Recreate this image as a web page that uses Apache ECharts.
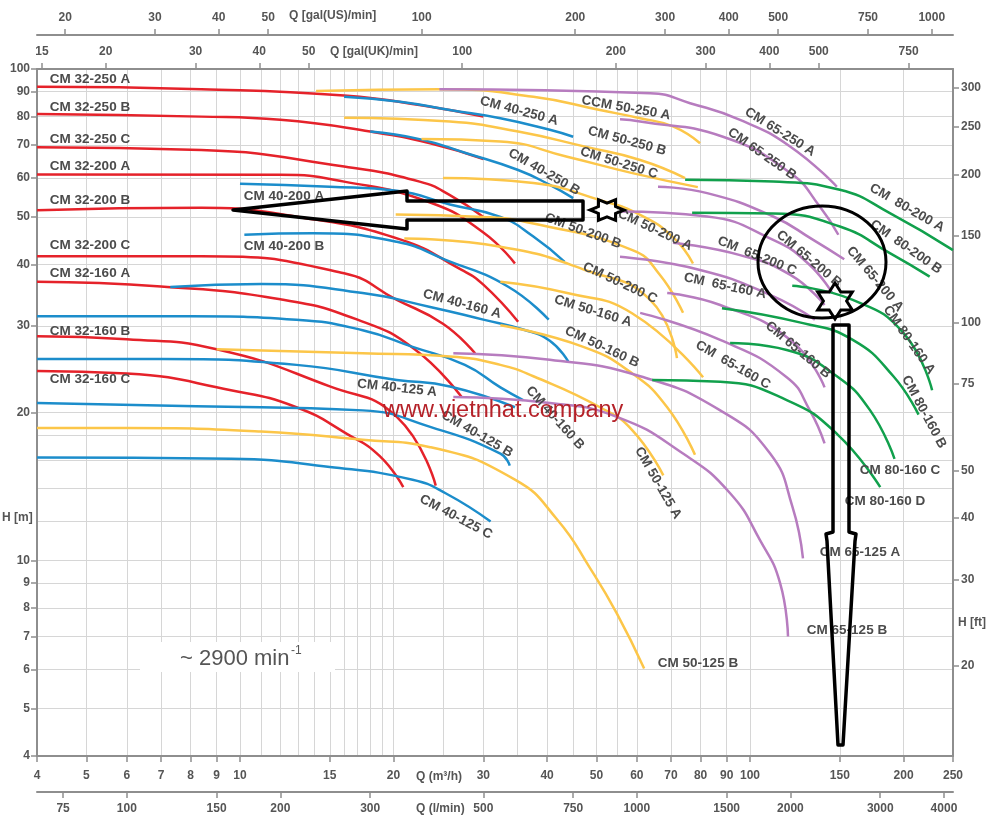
<!DOCTYPE html>
<html>
<head>
<meta charset="utf-8">
<script src="https://cdn.jsdelivr.net/npm/echarts@6/dist/echarts.min.js"></script>
<style>
  html, body { margin: 0; padding: 0; background: #fff; }
  #chart { width: 1000px; height: 822px; }
</style>
</head>
<body>
<div id="chart"></div>
<script>
// tick values of the scales
const qTicks = [4, 5, 6, 7, 8, 9, 10, 15, 20, 30, 40, 50, 60, 70, 80, 90, 100, 150, 200, 250];
const qGrid = [4, 5, 6, 7, 8, 9, 10, 11, 12, 13, 14, 15, 16, 17, 18, 19, 20, 25, 30, 35, 40, 45, 50, 55, 60, 70, 80, 90, 100, 150, 200, 250];
const hTicks = [4, 5, 6, 7, 8, 9, 10, 20, 30, 40, 50, 60, 70, 80, 90, 100];
const hGrid = [4, 5, 6, 7, 8, 9, 10, 12, 14, 16, 18, 20, 30, 40, 50, 60, 70, 80, 90, 100];
const usGpmTicks = [20, 30, 40, 50, 100, 200, 300, 400, 500, 750, 1000];
const ukGpmTicks = [15, 20, 30, 40, 50, 100, 200, 300, 400, 500, 750];
const lminTicks = [75, 100, 150, 200, 300, 500, 750, 1000, 1500, 2000, 3000, 4000];
const ftTicks = [20, 30, 40, 50, 75, 100, 150, 200, 250, 300];

// pump curves, [Q m3/h, H m]
const cm32_250A = [[4, 92], [8.4, 91], [16, 88.3], [23.6, 83.8], [30, 80]];
const cm32_250B = [[4, 81], [8.4, 80], [12, 78.8], [18, 74.6], [23.6, 70.6], [30, 65.6]];
const cm32_250C = [[4, 69.3], [8.4, 68.4], [16, 63.3], [22.5, 59], [25.8, 55.4], [30, 50]];
const cm32_200A = [[4, 61], [12, 60.9], [16, 59], [23.6, 53.5], [30, 46.5], [34.6, 40.2]];
const cm32_200B = [[4, 51.6], [8.4, 52.2], [13, 50], [20.6, 45], [27.2, 39], [30, 36.4], [35.1, 30.6]];
const cm32_200C = [[4, 41.6], [8.4, 41.6], [16, 38.4], [20.3, 33.9], [25, 30.3], [28.9, 26.4]];
const cm32_160A = [[4, 36.9], [7, 36.1], [12, 34], [17, 30.9], [22, 26.9], [27.2, 21.5]];
const cm32_160B = [[4, 28.6], [6, 28.2], [9, 26.9], [15, 22.6], [20.3, 19.6], [24.2, 14.2]];
const cm32_160C = [[4, 24.3], [6, 24], [9.6, 22.2], [12.9, 20.5], [16.2, 18.1], [18.8, 16.3], [20.9, 14.1]];

const cm40_250A = [[16, 87.8], [20.6, 85.8], [25.8, 82.5], [32.4, 79.4], [40.5, 75.2], [45, 72.8]];
const cm40_250B = [[18, 74.6], [22.5, 72], [27.8, 67.4], [35.1, 62.3], [40.5, 58.1], [45, 54.6]];
const cm40_200A = [[10, 58.4], [15, 57.6], [20.3, 56.5], [25.8, 53], [32.4, 50], [37.6, 45.6], [43.3, 40.5]];
const cm40_200B = [[10.2, 46], [13.9, 46.3], [20.3, 44.5], [25.3, 40.9], [33.5, 36.1], [40.3, 30.9]];
const cm40_160A = [[7.3, 36], [11, 36.5], [17.4, 35], [23.6, 32.8], [30, 30.9], [35.9, 29.5], [40.5, 28], [44, 25.4]];
const cm40_160B = [[4, 31.4], [8, 31.4], [12.9, 30.9], [17.4, 29.4], [21.8, 27.2], [27.6, 25], [32.4, 22.5], [35.9, 21.2]];
const cm40_125A = [[4, 25.7], [7, 25.7], [12.9, 25], [20.3, 23.3], [25.8, 22.6], [34.6, 20.5]];
const cm40_125B = [[4, 20.9], [8.2, 20.6], [17.4, 20.2], [23.6, 18.7], [32.4, 16.5], [33.8, 15.6]];
const cm40_125C = [[4, 16.2], [9.6, 16.1], [15, 15.5], [21.8, 14.6], [25.3, 13.7], [31, 12]];

const cm50_250A = [[14.1, 90.2], [24.6, 91], [37.6, 87.8], [50.8, 82.5], [60.9, 79.4], [70.6, 76.4], [79.8, 70.6]];
const cm50_250B = [[16, 79.6], [25.8, 78.2], [35.1, 74.6], [47.5, 69.5], [60.9, 65.3], [74.6, 60]];
const cm50_250C = [[22.7, 72], [32.4, 71.2], [43.8, 66.3], [58.8, 61.4], [79, 57.5]];
const cm50_200A = [[25, 60], [37.6, 58.6], [50.8, 54.1], [60.9, 50.5], [70.6, 45.5], [77.3, 40.2]];
const cm50_200B = [[20.2, 50.6], [30, 50], [37.6, 48.5], [58.8, 42.8], [66.6, 38.1], [73.9, 31.9]];
const cm50_200C = [[21, 45.2], [32.4, 43.5], [47.5, 39], [63.7, 33.9], [71.9, 25.8]];
const cm50_160A = [[32.4, 36.9], [43.8, 35], [58.8, 31.8], [80.9, 23.6]];
const cm50_160B = [[32.4, 30.1], [47.1, 27.2], [58.8, 24], [68.8, 20.5], [78, 16.4]];
const cm50_125A = [[9, 26.9], [17.4, 26.4], [25.8, 26], [32.4, 25], [37.6, 23.7], [50.8, 20.5], [58.8, 18.4], [67.6, 14.9]];
const cm50_125B = [[4, 18.6], [6, 18.6], [11, 18.3], [17.4, 17.6], [23.6, 17], [34.6, 14.6], [41.9, 12.1], [48.7, 9.6], [54.8, 7.8], [62, 6.03]];

const cm65_250A = [[24.6, 91], [63.7, 89.3], [76.3, 85.2], [95.6, 78.8], [120, 69.5], [148, 57.6]];
const cm65_250B = [[55.6, 79], [60.9, 78.2], [88.5, 72.8], [120, 61.4], [137, 52.5], [149, 46]];
const cm65_200A = [[66, 57.6], [82.4, 55.9], [111, 50.1], [133, 44.9], [153, 41]];
const cm65_200B = [[55.6, 51.3], [82.4, 50.1], [111, 44.9], [130, 40.2], [145, 35]];
const cm65_200C = [[70.6, 44.3], [95.6, 41.8], [120, 38.1], [140, 33.1]];
const cm65_160A = [[55.6, 41.5], [79.8, 39], [109.5, 34.7], [134, 30.9]];
const cm65_160B = [[68.8, 35], [87.4, 33.1], [120, 28.1], [140, 22.5]];
const cm65_160C = [[60.9, 31.9], [87.4, 28.1], [118, 23.6], [131, 20.2], [140, 17.3]];
const cm65_125A = [[26.2, 26.4], [40.5, 25.6], [60.9, 23.7], [87.4, 20.2], [109.5, 16.5], [121, 12.9], [127, 10.1]];
const cm65_125B = [[26.2, 21.5], [40.5, 20.9], [54.8, 19.6], [73.9, 16.5], [91.4, 13.7], [104.6, 11], [114.5, 9], [118.7, 7]];

const cm80_200A = [[74.6, 59.5], [111, 59], [150, 56.8], [188, 50.9], [250, 42.8]];
const cm80_200B = [[77, 51], [111, 50.8], [150, 47.8], [188, 42.2], [225, 37.8]];
const cm80_160A = [[121, 36.2], [159, 33.9], [200, 29], [227.5, 22.2]];
const cm80_160B = [[88.1, 32.6], [127, 30.4], [159, 28.1], [191, 23.7], [214, 19.8]];
const cm80_160C = [[91.4, 27.7], [118, 26.8], [148, 23.7], [172, 20.2], [192, 16.1]];
const cm80_160D = [[64.3, 23.3], [87.4, 23.1], [118, 21.2], [148, 18.1], [180, 14.1]];

const RED = '#e5222a', BLUE = '#1c8dcb', YELLOW = '#fcc649', PURPLE = '#b77cbf', GREEN = '#11a04c';

const curves = [
  ['CM 32-250 A', cm32_250A, RED], ['CM 32-250 B', cm32_250B, RED], ['CM 32-250 C', cm32_250C, RED],
  ['CM 32-200 A', cm32_200A, RED], ['CM 32-200 B', cm32_200B, RED], ['CM 32-200 C', cm32_200C, RED],
  ['CM 32-160 A', cm32_160A, RED], ['CM 32-160 B', cm32_160B, RED], ['CM 32-160 C', cm32_160C, RED],
  ['CM 40-250 A', cm40_250A, BLUE], ['CM 40-250 B', cm40_250B, BLUE], ['CM 40-200 A', cm40_200A, BLUE],
  ['CM 40-200 B', cm40_200B, BLUE], ['CM 40-160 A', cm40_160A, BLUE], ['CM 40-160 B', cm40_160B, BLUE],
  ['CM 40-125 A', cm40_125A, BLUE], ['CM 40-125 B', cm40_125B, BLUE], ['CM 40-125 C', cm40_125C, BLUE],
  ['CM 50-250 A', cm50_250A, YELLOW], ['CM 50-250 B', cm50_250B, YELLOW], ['CM 50-250 C', cm50_250C, YELLOW],
  ['CM 50-200 A', cm50_200A, YELLOW], ['CM 50-200 B', cm50_200B, YELLOW], ['CM 50-200 C', cm50_200C, YELLOW],
  ['CM 50-160 A', cm50_160A, YELLOW], ['CM 50-160 B', cm50_160B, YELLOW],
  ['CM 50-125 A', cm50_125A, YELLOW], ['CM 50-125 B', cm50_125B, YELLOW],
  ['CM 65-250 A', cm65_250A, PURPLE], ['CM 65-250 B', cm65_250B, PURPLE],
  ['CM 65-200 A', cm65_200A, PURPLE], ['CM 65-200 B', cm65_200B, PURPLE], ['CM 65-200 C', cm65_200C, PURPLE],
  ['CM 65-160 A', cm65_160A, PURPLE], ['CM 65-160 B', cm65_160B, PURPLE], ['CM 65-160 C', cm65_160C, PURPLE],
  ['CM 65-125 A', cm65_125A, PURPLE], ['CM 65-125 B', cm65_125B, PURPLE],
  ['CM 80-200 A', cm80_200A, GREEN], ['CM 80-200 B', cm80_200B, GREEN],
  ['CM 80-160 A', cm80_160A, GREEN], ['CM 80-160 B', cm80_160B, GREEN],
  ['CM 80-160 C', cm80_160C, GREEN], ['CM 80-160 D', cm80_160D, GREEN],
];

// curve captions: text, centre x, centre y, clockwise angle
const captions = [
  ['CM 32-250 A', 90, 79, 0], ['CM 32-250 B', 90, 107, 0], ['CM 32-250 C', 90, 139, 0],
  ['CM 32-200 A', 90, 166, 0], ['CM 32-200 B', 90, 200, 0], ['CM 32-200 C', 90, 245, 0],
  ['CM 32-160 A', 90, 273, 0], ['CM 32-160 B', 90, 331, 0], ['CM 32-160 C', 90, 379, 0],
  ['CM 40-200 A', 284, 196, 0], ['CM 40-200 B', 284, 246, 0],
  ['CM 40-250 A', 519, 111, 15], ['CM 40-250 B', 544, 172, 30],
  ['CM 40-160 A', 462, 304, 15], ['CM 40-160 B', 555, 418, 48],
  ['CM 40-125 A', 397, 388, 6], ['CM 40-125 B', 477, 434, 30], ['CM 40-125 C', 456, 517, 28],
  ['CCM 50-250 A', 626, 108, 10], ['CM 50-250 B', 627, 141, 15], ['CM 50-250 C', 619, 163, 17],
  ['CM 50-200 A', 655, 230, 25], ['CM 50-200 B', 583, 231, 20], ['CM 50-200 C', 620, 283, 25],
  ['CM 50-160 A', 593, 311, 17], ['CM 50-160 B', 602, 347, 25],
  ['CM 50-125 A', 658, 483, 60], ['CM 50-125 B', 698, 663, 0],
  ['CM 65-250 A', 780, 132, 32], ['CM 65-250 B', 762, 154, 35],
  ['CM 65-200 A', 875, 279, 50], ['CM 65-200 B', 809, 259, 40], ['CM  65-200 C', 757, 256, 22],
  ['CM  65-160 A', 725, 286, 12], ['CM 65-160 B', 798, 350, 40], ['CM  65-160 C', 733, 365, 30],
  ['CM 65-125 A', 860, 552, 0], ['CM 65-125 B', 847, 630, 0],
  ['CM  80-200 A', 907, 208, 30], ['CM  80-200 B', 906, 247, 35],
  ['CM 80-160 A', 909, 340, 55], ['CM 80-160 B', 924, 412, 62],
  ['CM 80-160 C', 900, 470, 0], ['CM 80-160 D', 885, 501, 0],
];

const L = Math.log10;
const lg = arr => arr.map(v => L(v));
const fmt = v => String(Math.round(Math.pow(10, v)));
const FONT = '"Liberation Sans", Arial, sans-serif';
const AXIS = '#8e8e8e';
const GRIDC = '#d6d6d6';
const TXT = '#555';

function scaleAxis(o) {
  const ticks = lg(o.ticks);
  return {
    type: 'value', position: o.position, offset: o.offset || 0,
    min: L(o.min), max: L(o.max),
    axisLine: { show: true, onZero: false, lineStyle: { color: AXIS, width: 2 } },
    axisTick: { show: true, inside: false, length: 6, customValues: ticks, lineStyle: { color: AXIS, width: 1.5 } },
    axisLabel: {
      show: true, customValues: ticks, formatter: fmt, margin: o.margin,
      color: TXT, fontSize: 12, fontWeight: 'bold', fontFamily: FONT,
    },
    splitLine: { show: false },
  };
}

function gridAxis(position, min, max, vals) {
  return {
    type: 'value', position: position, min: L(min), max: L(max),
    axisLine: { show: false, onZero: false },
    axisTick: { show: false, customValues: lg(vals) },
    axisLabel: { show: false },
    splitLine: { show: true, lineStyle: { color: GRIDC, width: 1 } },
  };
}

const US = 0.227125, UK = 0.272765, LMIN = 0.06, FT = 0.3048;

function hexagram(cx, cy, rx, ry, rot) {
  const pts = [];
  for (let i = 0; i < 12; i++) {
    const a = rot + i * Math.PI / 6;
    const r = i % 2 === 0 ? 1 : 0.58;
    pts.push([cx + rx * r * Math.cos(a), cy + ry * r * Math.sin(a)]);
  }
  return pts;
}

const chart = echarts.init(document.getElementById('chart'));

const graphics = captions.map(c => ({
  type: 'text', x: c[1], y: c[2], rotation: -c[3] * Math.PI / 180, z: 100,
  style: {
    text: c[0], font: 'bold 13.5px ' + FONT, fill: '#4b4b4b',
    textAlign: 'center', textVerticalAlign: 'middle', align: 'center', verticalAlign: 'middle',
  },
}));

const axisNames = [
  ['Q [gal(US)/min]', 289, 16], ['Q [gal(UK)/min]', 330, 52],
  ['Q (m\u00b3/h)', 416, 777], ['Q (l/min)', 416, 809],
  ['H [m]', 2, 518], ['H [ft]', 958, 623],
];
axisNames.forEach(n => graphics.push({
  type: 'text', x: n[1], y: n[2], z: 100,
  style: { text: n[0], font: 'bold 12px ' + FONT, fill: TXT, textVerticalAlign: 'middle', verticalAlign: 'middle' },
}));

graphics.push(
  { type: 'rect', shape: { x: 140, y: 642, width: 195, height: 30 }, style: { fill: '#fff' }, z: 50 },
  { type: 'text', x: 180, y: 659, z: 100, style: { text: '~ 2900 min', font: '22px ' + FONT, fill: '#555', verticalAlign: 'middle', textVerticalAlign: 'middle' } },
  { type: 'text', x: 291, y: 651, z: 100, style: { text: '-1', font: '12px ' + FONT, fill: '#555', verticalAlign: 'middle', textVerticalAlign: 'middle' } },
  { type: 'text', x: 383, y: 411, z: 100, style: { text: 'www.vietnhat.company', font: '23.5px ' + FONT, fill: '#b52229', verticalAlign: 'middle', textVerticalAlign: 'middle' } },
  {
    type: 'polygon', z: 110,
    shape: { points: [[233, 210], [407, 191], [407, 201], [583, 201], [583, 220], [407, 220], [407, 229]] },
    style: { fill: 'none', stroke: '#000', lineWidth: 3.5, lineJoin: 'round' },
  },
  {
    type: 'polygon', z: 110,
    shape: { points: [[833, 325], [849, 325], [849, 532], [856, 534], [855, 541], [843, 745], [838, 745], [827, 541], [826, 534], [833, 532]] },
    style: { fill: 'none', stroke: '#000', lineWidth: 3.5, lineJoin: 'round' },
  },
  { type: 'ellipse', z: 110, shape: { cx: 822, cy: 262, rx: 64, ry: 56 }, style: { fill: 'none', stroke: '#000', lineWidth: 3 } },
  { type: 'polygon', z: 110, shape: { points: hexagram(607, 210, 17, 12, 0) }, style: { fill: 'none', stroke: '#000', lineWidth: 3 } },
  { type: 'polygon', z: 110, shape: { points: hexagram(835, 301, 20, 18, -Math.PI / 2) }, style: { fill: 'none', stroke: '#000', lineWidth: 3 } }
);

const option = {
  animation: false,
  backgroundColor: '#fff',
  grid: { left: 37, right: 47, top: 69, bottom: 66, outerBoundsMode: 'none', containLabel: false },
  xAxis: [
    scaleAxis({ position: 'bottom', min: 4, max: 250, ticks: qTicks, margin: 14 }),
    gridAxis('bottom', 4, 250, qGrid),
    scaleAxis({ position: 'top', offset: 34, min: 4 / US, max: 250 / US, ticks: usGpmTicks, margin: 11 }),
    scaleAxis({ position: 'top', min: 4 / UK, max: 250 / UK, ticks: ukGpmTicks, margin: 11 }),
    scaleAxis({ position: 'bottom', offset: 36, min: 4 / LMIN, max: 250 / LMIN, ticks: lminTicks, margin: 11 }),
  ],
  yAxis: [
    scaleAxis({ position: 'left', min: 4, max: 100, ticks: hTicks, margin: 7 }),
    gridAxis('left', 4, 100, hGrid),
    scaleAxis({ position: 'right', min: 4 / FT, max: 100 / FT, ticks: ftTicks, margin: 8 }),
  ],
  series: curves.map(c => ({
    type: 'line', name: c[0],
    xAxisIndex: 0, yAxisIndex: 0,
    data: c[1].map(p => [L(p[0]), L(p[1])]),
    smooth: 0.5,
    showSymbol: false, symbol: 'none', silent: true,
    lineStyle: { color: c[2], width: 2.5 },
    z: 3,
  })),
  graphic: graphics,
};

chart.setOption(option);
</script>
</body>
</html>
